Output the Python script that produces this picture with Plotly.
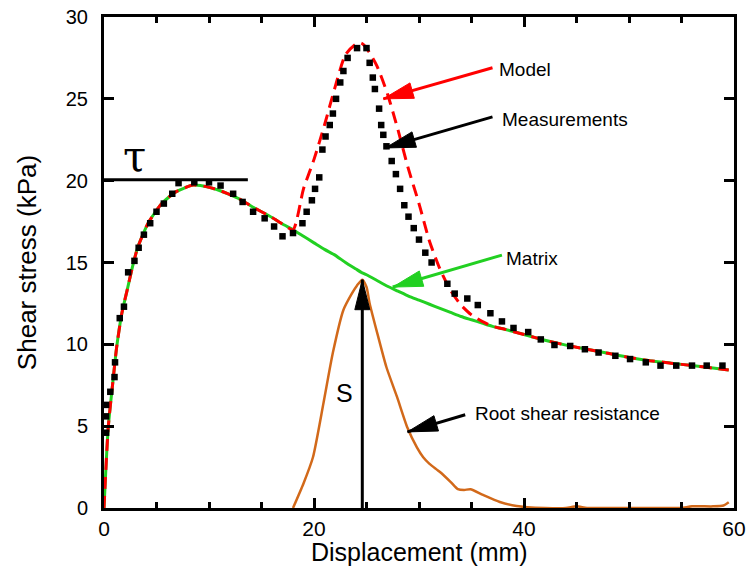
import math
import plotly.graph_objects as go

# ---------------------------------------------------------------- data
# displacement grid (mm) shared by the matrix and model curves
disp = [0, 0.4, 0.86, 1.2, 1.7, 2.2, 2.7, 3.2, 4.2, 5.5, 6.8, 8.5, 10, 11, 12,
        13, 14, 15, 16, 17, 18, 19, 20, 21, 22, 23, 24, 24.5, 25, 26, 27, 28,
        29, 30, 31, 32, 33, 34, 35, 36, 37, 38, 40, 42, 44, 46, 48, 50, 52,
        54, 56, 58, 59.5]

# soil matrix shear stress (kPa)
matrix = [0, 4.9, 7.8, 9.8, 11.9, 13.3, 14.7, 15.9, 17.4, 18.6, 19.3, 19.73,
          19.6, 19.4, 19.15, 18.85, 18.45, 18.1, 17.75, 17.35, 17.0, 16.6,
          16.2, 15.8, 15.45, 15.0, 14.6, 14.4, 14.25, 13.9, 13.55, 13.25,
          12.95, 12.7, 12.45, 12.2, 11.95, 11.7, 11.5, 11.3, 11.1, 10.95,
          10.6, 10.25, 9.95, 9.7, 9.45, 9.2, 9.0, 8.85, 8.7, 8.55, 8.43]

# model shear stress (kPa)
model = [0, 4.9, 7.8, 9.8, 11.9, 13.3, 14.7, 15.9, 17.4, 18.6, 19.3, 19.73,
         19.6, 19.4, 19.15, 18.85, 18.45, 18.1, 17.75, 17.35, 17.0, 19.5,
         21.3, 23.4, 25.7, 27.7, 28.35, 28.4, 28.1, 27.0, 25.3, 23.1, 20.7,
         18.6, 16.3, 14.6, 13.3, 12.4, 11.8, 11.4, 11.1, 10.95, 10.6, 10.25,
         9.95, 9.7, 9.45, 9.2, 9.0, 8.85, 8.7, 8.55, 8.43]

# measured shear stress
meas_x = [0.2, 0.2, 0.2, 0.6, 1.0, 1.05, 1.5, 1.9, 2.3, 2.9, 3.3, 3.8, 4.4,
          5.0, 5.7, 6.5, 7.1, 8.6, 10.0, 11.1, 12.3, 13.2, 14.2, 15.3, 16.2,
          17.0, 18.0, 18.9, 19.3, 19.8, 20.1, 20.5, 20.8, 21.1, 21.5, 21.8,
          22.1, 22.5, 22.8, 23.2, 24.1, 25.0, 25.3, 25.6, 25.8, 26.2, 26.4,
          26.6, 26.9, 27.4, 27.8, 28.2, 28.6, 29.0, 29.5, 30.0, 30.6, 31.2,
          32.7, 33.4, 34.6, 35.6, 36.8, 37.9, 39.0, 40.4, 41.6, 42.9, 44.4,
          45.8, 47.1, 48.7, 50.1, 51.6, 53.0, 54.5, 56.0, 57.4, 58.9]
meas_y = [4.6, 5.6, 6.3, 7.1, 8.0, 8.9, 11.6, 12.3, 14.4, 15.1, 15.9, 16.7,
          17.4, 18.1, 18.6, 19.2, 19.85, 19.9, 19.9, 19.7, 19.2, 18.7, 18.1,
          17.7, 17.2, 16.6, 16.8, 17.4, 18.1, 18.8, 19.5, 20.2, 21.9, 22.7,
          23.4, 24.1, 25.0, 26.0, 26.7, 27.5, 28.1, 28.1, 27.2, 26.3, 25.6,
          24.4, 23.4, 22.8, 22.1, 21.2, 20.4, 19.5, 18.5, 17.8, 17.1, 16.4,
          15.6, 15.0, 13.7, 13.1, 12.8, 12.4, 11.9, 11.4, 11.0, 10.75, 10.3,
          9.96, 9.9, 9.7, 9.5, 9.3, 9.1, 8.9, 8.7, 8.7, 8.7, 8.7, 8.7]

# root shear resistance
root_x = [18, 19, 19.9, 20.9, 21.8, 22.8, 23.6, 24.1, 24.6, 25.0, 25.3, 26.1,
          26.9, 27.9, 28.9, 29.8, 30.4, 31, 32, 33, 33.7, 34.3, 34.9, 36.1,
          37.7, 39.3, 40.3, 42, 44, 45, 46, 48, 50, 52, 54, 55, 56, 58, 59,
          59.5]
root_y = [0, 1.5, 3.1, 6.4, 9.5, 12.1, 13.1, 13.6, 13.95, 13.5, 12.5, 10.5,
          8.6, 6.8, 4.9, 3.7, 3.1, 2.7, 2.2, 1.6, 1.15, 1.1, 1.15, 0.8, 0.37,
          0.12, 0.05, 0, 0, 0.1, 0, 0, 0, 0, 0, 0, 0.1, 0.1, 0.15, 0.35]

peak_tau = 20.05        # matrix peak strength marker
S_value = root_y[root_x.index(24.6)]

X_RANGE = [0, 60]
Y_RANGE = [0, 30]
x_ticks = [0, 20, 40, 60]
y_ticks = [0, 5, 10, 15, 20, 25, 30]

# ---------------------------------------------------------------- layout
W, H = 747, 567
MARGIN = dict(l=104, r=13, t=17, b=59)
PX_X = (W - MARGIN["l"] - MARGIN["r"]) / (X_RANGE[1] - X_RANGE[0])
PX_Y = (H - MARGIN["t"] - MARGIN["b"]) / (Y_RANGE[1] - Y_RANGE[0])

RED = "#FF0000"
GREEN = "#22D022"
ORANGE = "#D2691A"
SANS = "Liberation Sans, Arial, Helvetica, sans-serif"

fig = go.Figure()
fig.add_trace(go.Scatter(x=disp, y=matrix, mode="lines",
                         line=dict(color=GREEN, width=3, shape="spline",
                                   smoothing=0.6),
                         name="Matrix"))
fig.add_trace(go.Scatter(x=disp, y=model, mode="lines",
                         line=dict(color=RED, width=3, dash="12px,7px",
                                   shape="spline", smoothing=0.6),
                         name="Model"))
fig.add_trace(go.Scatter(x=meas_x, y=meas_y, mode="markers",
                         marker=dict(symbol="square", size=6.5, color="black"),
                         name="Measurements"))
fig.add_trace(go.Scatter(x=root_x, y=root_y, mode="lines",
                         line=dict(color=ORANGE, width=2.5, shape="spline",
                                   smoothing=0.6),
                         name="Root shear resistance"))

shapes = []
annotations = []


def arrow(tail, tip, color, width=3, head_len=30, head_w=16):
    """Straight arrow drawn in data space with a slim filled head."""
    shapes.append(dict(type="line", xref="x", yref="y",
                       x0=tail[0], y0=tail[1], x1=tip[0], y1=tip[1],
                       line=dict(color=color, width=width), layer="above"))
    dx = (tail[0] - tip[0]) * PX_X
    dy = (tail[1] - tip[1]) * PX_Y
    n = math.hypot(dx, dy)
    ux, uy = dx / n, dy / n
    bx, by = ux * head_len, uy * head_len
    px, py = -uy * head_w / 2, ux * head_w / 2
    path = (f"M0,0 L{bx + px:.2f},{by + py:.2f} "
            f"L{bx - px:.2f},{by - py:.2f} Z")
    shapes.append(dict(type="path", xref="x", yref="y",
                       xsizemode="pixel", ysizemode="pixel",
                       xanchor=tip[0], yanchor=tip[1], path=path,
                       fillcolor=color, line=dict(color=color, width=1),
                       layer="above"))


def label(x, y, text, size=19, xanchor="left", family=SANS, **kw):
    annotations.append(dict(x=x, y=y, xref="x", yref="y", text=text,
                            showarrow=False, xanchor=xanchor,
                            font=dict(family=family, size=size,
                                      color="black"), **kw))


# peak strength line and tau symbol
shapes.append(dict(type="line", xref="x", yref="y", x0=0, x1=13.7,
                   y0=peak_tau, y1=peak_tau,
                   line=dict(color="black", width=3), layer="above"))
label(2.9, peak_tau, "τ", size=42, xanchor="center",
      family="DejaVu Serif, Liberation Serif, serif", yanchor="bottom",
      yshift=-3)

# callouts
arrow((37.0, 26.9), (26.6, 25.0), RED)
label(37.4, 26.8, "Model")
arrow((37.0, 23.9), (26.8, 22.0), "black")
label(37.7, 23.76, "Measurements")
arrow((37.9, 15.45), (27.5, 13.5), GREEN)
label(38.1, 15.27, "Matrix")
arrow((34.4, 5.7), (28.9, 4.65), "black")
label(35.1, 5.8, "Root shear resistance")

# root reinforcement S
arrow((24.6, 0), (24.6, S_value), "black", head_len=30, head_w=15)
label(22.95, 7.0, "S", size=25, xanchor="center")

# x axis title placed in the bottom margin
annotations.append(dict(x=0.5, y=0, xref="paper", yref="paper",
                        text="Displacement (mm)", showarrow=False,
                        xanchor="center", yanchor="bottom", yshift=-60,
                        font=dict(family=SANS, size=25, color="black")))

axis_common = dict(showline=True, linewidth=3, linecolor="black",
                   mirror="allticks", ticks="inside", tickwidth=2.5,
                   tickcolor="black", showgrid=False, zeroline=False,
                   automargin=False)

fig.update_layout(
    width=W, height=H, margin=MARGIN,
    paper_bgcolor="white", plot_bgcolor="white",
    showlegend=False,
    shapes=shapes, annotations=annotations,
    xaxis=dict(range=X_RANGE, tickvals=x_ticks, ticklen=10,
               minor=dict(dtick=5, ticks="inside", ticklen=6,
                          tickwidth=2.5, tickcolor="black", showgrid=False),
               tickfont=dict(family=SANS, size=21, color="black"),
               ticklabelstandoff=0,
               **axis_common),
    yaxis=dict(range=Y_RANGE, tickvals=y_ticks, ticklen=10,
               tickfont=dict(family=SANS, size=20, color="black"),
               title=dict(text="Shear stress (kPa)", standoff=22,
                          font=dict(family=SANS, size=26, color="black")),
               ticklabelstandoff=9,
               **axis_common),
)

fig.write_html("out.html")
